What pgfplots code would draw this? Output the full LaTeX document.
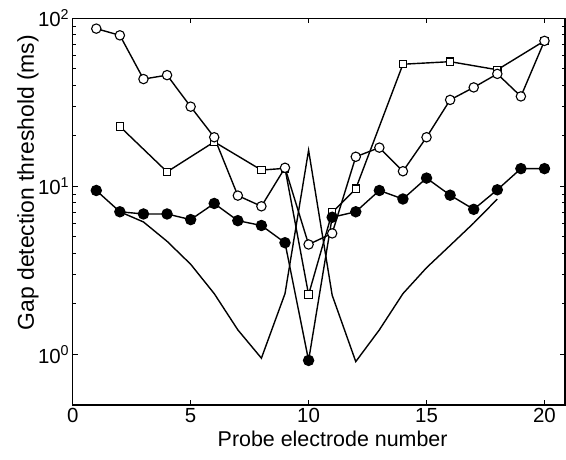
\documentclass[border=0pt]{standalone}
\usepackage{fontspec}
\setmainfont{Liberation Sans}
\usepackage{pgfplots}
\pgfplotsset{compat=1.18}
\usetikzlibrary{calc}
\begin{document}
\begin{tikzpicture}
\begin{axis}[name=ax, scale only axis, width=492.3bp, height=386.7bp,
  ymode=log, xmin=0, xmax=20.87, ymin=0.5, ymax=100,
  xtick={0,5,10,15,20}, xticklabels={0,5,10,15,20},
  ytick={1,10,100},
  yticklabels={10\textsuperscript{0},10\textsuperscript{1},10\textsuperscript{2}},
  tick align=inside, major tick length=5bp, minor tick length=3bp,
  axis line style={line width=1.2bp},
  every tick/.style={black, line width=0.9bp},
  ticklabel style={font=\fontsize{20.5}{24}\selectfont},
  xlabel={Probe electrode number}, ylabel={Gap detection threshold (ms)},
  xlabel style={font=\fontsize{21.5}{26}\selectfont, at={(rel axis cs:0.528,-0.0879)}, anchor=center},
  ylabel style={font=\fontsize{23}{27}\selectfont, at={(rel axis cs:-0.0908,0.575)}, anchor=center},
  clip=false,
]
% plain line (no marks)
\addplot[black, line width=1.4bp] coordinates {
(2,7.06) (3,6.14) (4,4.71) (5,3.44) (6,2.30) (7,1.40) (8,0.95) (9,2.30)
(10,16.4) (11,2.25) (12,0.906) (13,1.40) (14,2.30) (15,3.28) (16,4.45)
(17,6.05) (18,8.4)};
% squares
\addplot[black, line width=1.4bp, mark=square*, mark size=3.7bp,
  mark options={fill=white, line width=1.1bp}] coordinates {
(2,22.7) (4,12.2) (6,18.4) (8,12.5) (9,12.8) (10,2.27) (11,7.0) (12,9.68)
(14,53.3) (16,55.2) (18,49.4) (20,73.4)};
% open circles
\addplot[black, line width=1.4bp, mark=*, mark size=4.7bp,
  mark options={fill=white, line width=1.1bp}] coordinates {
(1,86.8) (2,79.2) (3,43.5) (4,45.9) (5,29.8) (6,19.6) (7,8.81) (8,7.61)
(9,12.9) (10,4.51) (11,5.25) (12,15.0) (13,17.0) (14,12.3) (15,19.6)
(16,32.7) (17,38.8) (18,46.7) (19,34.3) (20,73.4)};
% filled circles
\addplot[black, line width=1.4bp, mark=*, mark size=5bp,
  mark options={fill=black}] coordinates {
(1,9.45) (2,7.06) (3,6.85) (4,6.85) (5,6.34) (6,7.91) (7,6.25) (8,5.85)
(9,4.62) (10,0.921) (11,6.55) (12,7.06) (13,9.45) (14,8.41) (15,11.2)
(16,8.86) (17,7.30) (18,9.54) (19,12.75) (20,12.75)};
\end{axis}
\pgfresetboundingbox
\path[use as bounding box] ($(ax.south west)+(-72.7bp,-55bp)$) rectangle ($(ax.north east)+(1bp,18.3bp)$);
\end{tikzpicture}
\end{document}
